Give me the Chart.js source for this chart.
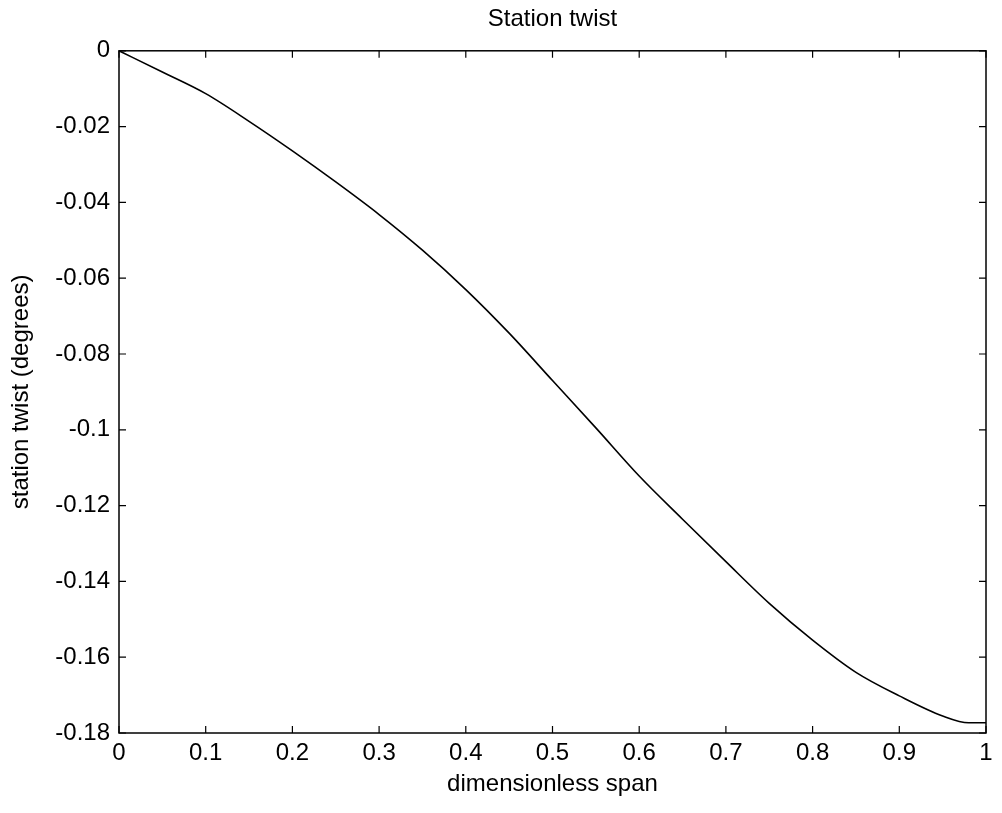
<!DOCTYPE html>
<html>
<head>
<meta charset="utf-8">
<script src="https://cdn.jsdelivr.net/npm/chart.js@4/dist/chart.umd.min.js"></script>
<style>
  html, body { margin: 0; padding: 0; background: #fff; }
  .wrap { width: 1002px; height: 813px; }
</style>
</head>
<body>
<div class="wrap"><canvas id="twistChart"></canvas></div>
<script>
const spanValues = [0, 0.05, 0.1, 0.15, 0.2, 0.25, 0.3, 0.35, 0.4, 0.45, 0.5, 0.55,
  0.6, 0.65, 0.7, 0.75, 0.8, 0.85, 0.9, 0.95, 0.98, 1.0];
const twistValues = [0, -0.0056, -0.0113, -0.0186, -0.0264, -0.0346, -0.0432, -0.0526,
  -0.0630, -0.0745, -0.0870, -0.0995, -0.1122, -0.1236, -0.1348, -0.1458, -0.1555,
  -0.1640, -0.1702, -0.1755, -0.1773, -0.1773];
const xTicks = [0, 0.1, 0.2, 0.3, 0.4, 0.5, 0.6, 0.7, 0.8, 0.9, 1];
const yTicks = [0, -0.02, -0.04, -0.06, -0.08, -0.1, -0.12, -0.14, -0.16, -0.18];

const ink = "#000";
const fontFamily = "'Liberation Sans', Arial, Helvetica, sans-serif";
const fmt = (v) => parseFloat(Number(v).toFixed(2)).toString();

// matlab style box with inward ticks on all four sides
const boxPlugin = {
  id: "matlabBox",
  afterDraw(chart) {
    const { ctx, chartArea: a, scales } = chart;
    const len = 7;
    ctx.save();
    ctx.strokeStyle = ink;
    ctx.lineWidth = 1.5;
    ctx.strokeRect(a.left, a.top, a.right - a.left, a.bottom - a.top);
    ctx.lineWidth = 1.2;
    ctx.beginPath();
    xTicks.forEach((v) => {
      const px = scales.x.getPixelForValue(v);
      ctx.moveTo(px, a.bottom);
      ctx.lineTo(px, a.bottom - len);
      ctx.moveTo(px, a.top);
      ctx.lineTo(px, a.top + len);
    });
    yTicks.forEach((v) => {
      const py = scales.y.getPixelForValue(v);
      ctx.moveTo(a.left, py);
      ctx.lineTo(a.left + len, py);
      ctx.moveTo(a.right, py);
      ctx.lineTo(a.right - len, py);
    });
    ctx.stroke();
    ctx.restore();
  },
};

const ctx = document.getElementById("twistChart").getContext("2d");
new Chart(ctx, {
  type: "scatter",
  data: {
    datasets: [
      {
        data: spanValues.map((x, i) => ({ x: x, y: twistValues[i] })),
        showLine: true,
        borderColor: ink,
        borderWidth: 1.6,
        pointRadius: 0,
        cubicInterpolationMode: "monotone",
      },
    ],
  },
  options: {
    responsive: true,
    maintainAspectRatio: false,
    animation: false,
    layout: { padding: { left: 0, right: 16, top: 0, bottom: 0 } },
    plugins: {
      legend: { display: false },
      tooltip: { enabled: false },
      title: {
        display: true,
        text: "Station twist",
        fullSize: false,
        color: ink,
        font: { family: fontFamily, size: 24, weight: "normal" },
        padding: { top: 5, bottom: 17 },
      },
    },
    scales: {
      x: {
        type: "linear",
        min: 0,
        max: 1,
        afterBuildTicks: (scale) => {
          scale.ticks = xTicks.map((v) => ({ value: v }));
        },
        afterFit: (scale) => {
          scale.height = 80;
        },
        grid: { display: false, drawTicks: false },
        border: { display: false },
        ticks: {
          color: ink,
          padding: 6,
          maxRotation: 0,
          font: { family: fontFamily, size: 24 },
          callback: (v) => fmt(v),
        },
        title: {
          display: true,
          text: "dimensionless span",
          color: ink,
          font: { family: fontFamily, size: 24 },
          padding: { top: 0, bottom: 14 },
        },
      },
      y: {
        type: "linear",
        min: -0.18,
        max: 0,
        afterBuildTicks: (scale) => {
          scale.ticks = yTicks.map((v) => ({ value: v }));
        },
        afterFit: (scale) => {
          scale.width = 119;
        },
        grid: { display: false, drawTicks: false },
        border: { display: false },
        ticks: {
          color: ink,
          padding: 9,
          font: { family: fontFamily, size: 24 },
          callback: (v) => fmt(v),
        },
        title: {
          display: true,
          text: "station twist (degrees)",
          color: ink,
          font: { family: fontFamily, size: 24 },
          padding: { top: 7, bottom: 0 },
        },
      },
    },
  },
  plugins: [boxPlugin],
});
</script>
</body>
</html>
